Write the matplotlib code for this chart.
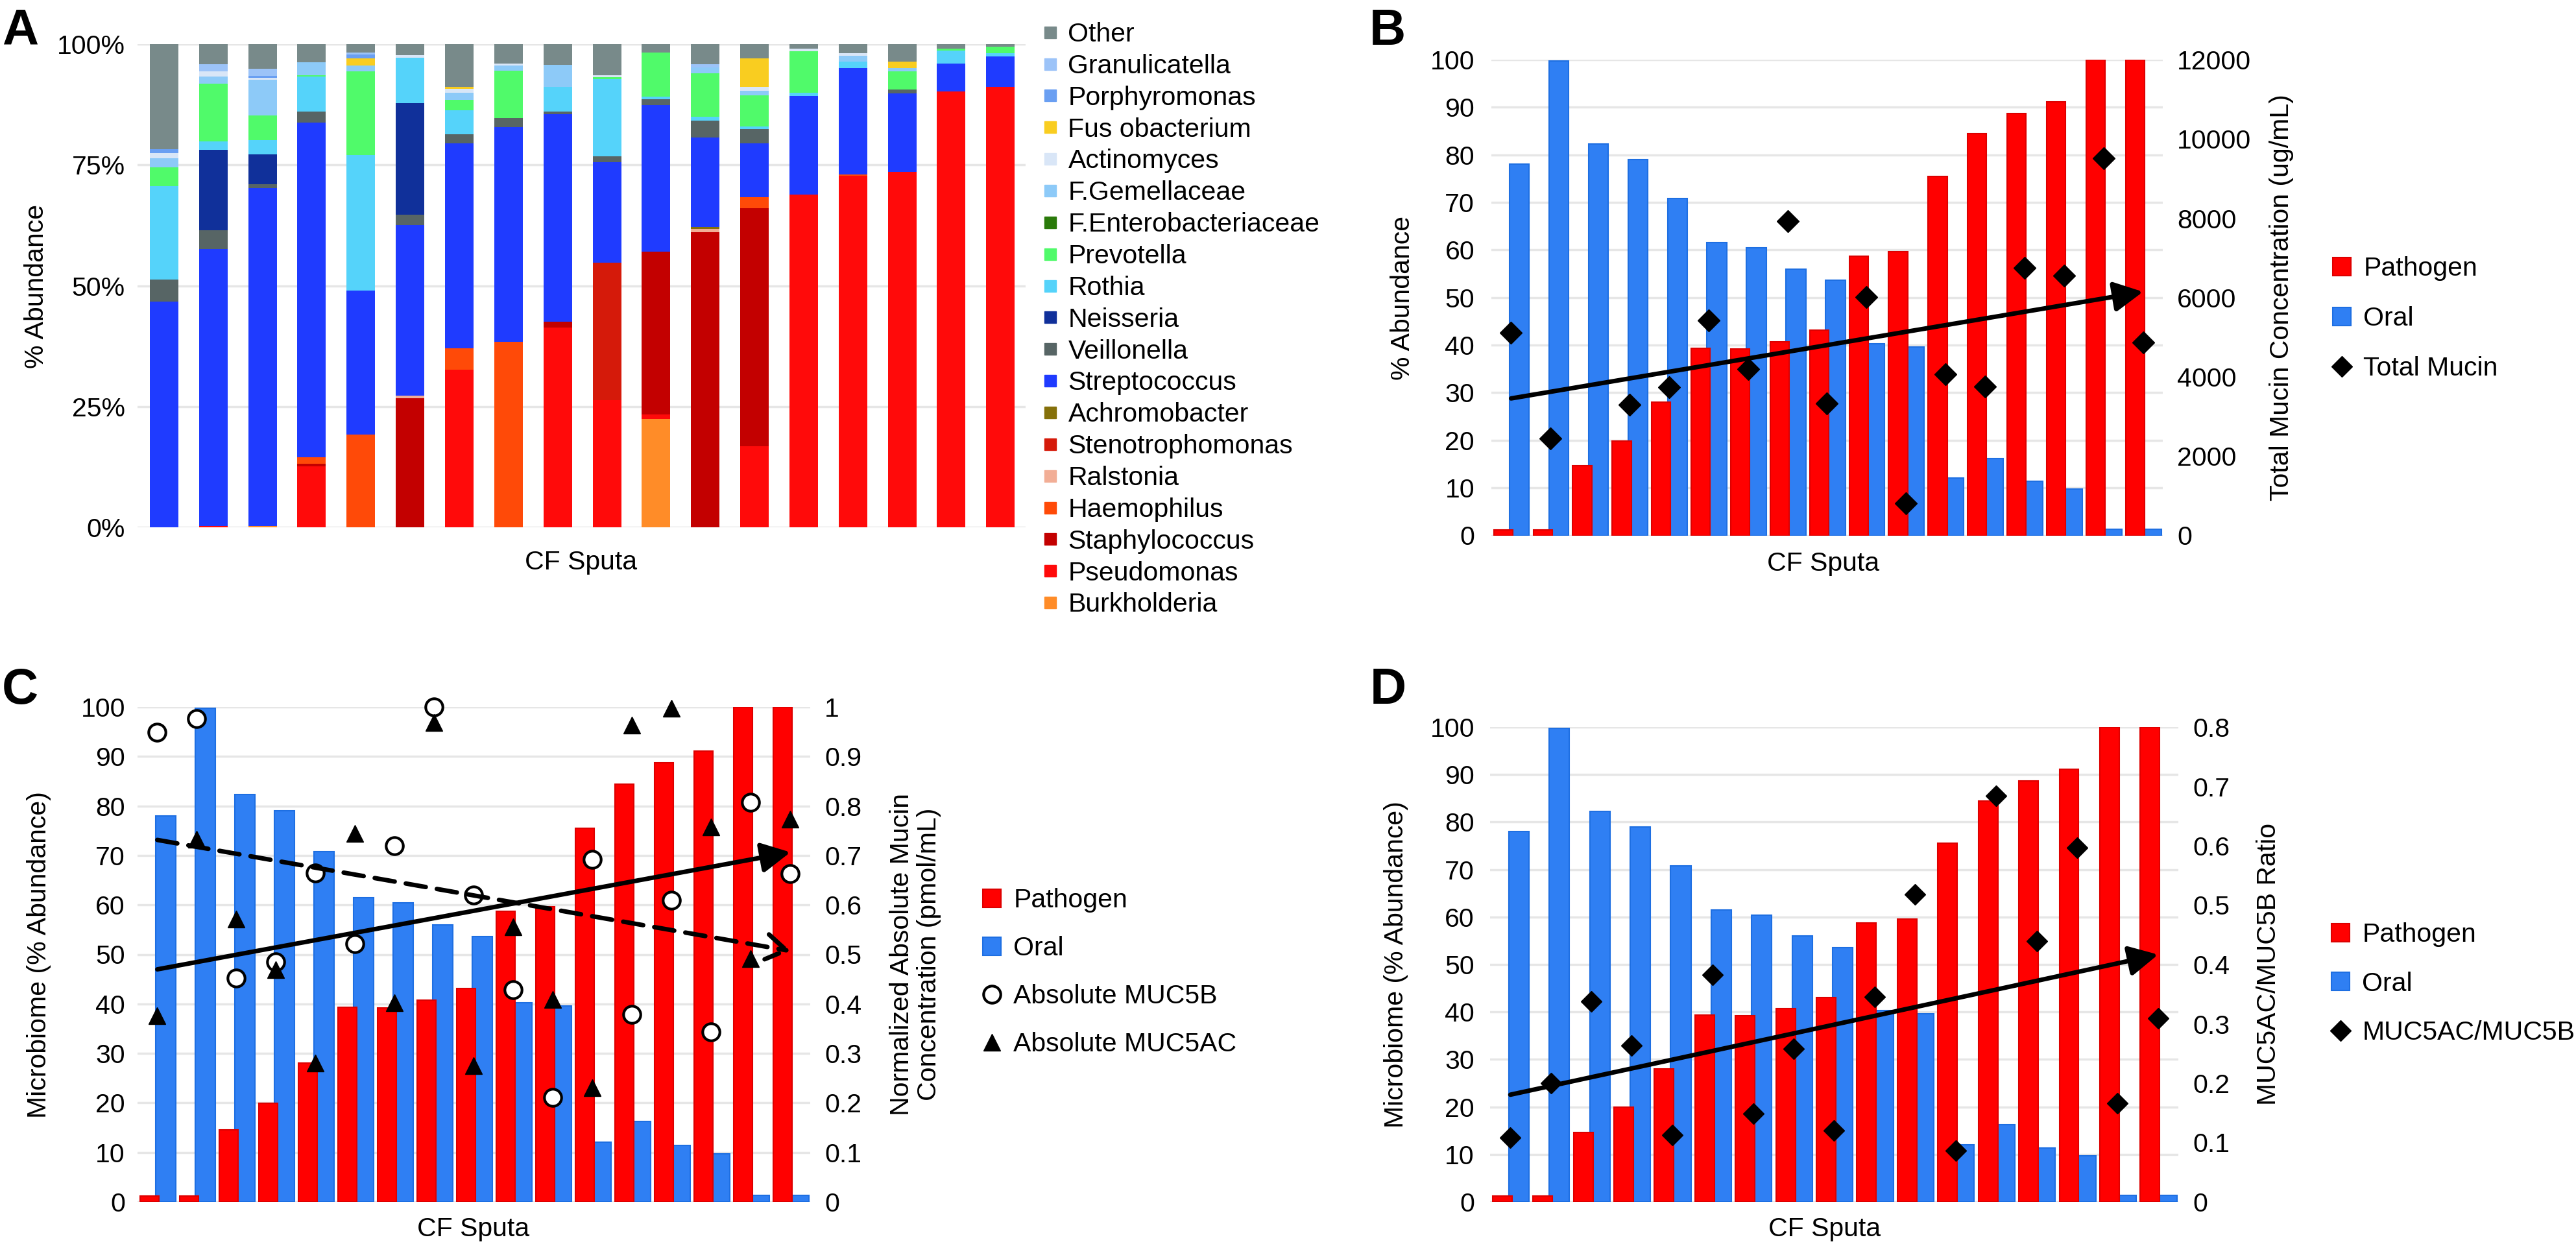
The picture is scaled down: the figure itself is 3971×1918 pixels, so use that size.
import numpy as np
import matplotlib
matplotlib.use('Agg')
import matplotlib.pyplot as plt
from matplotlib.lines import Line2D

plt.rcParams['font.family'] = ['Liberation Sans', 'DejaVu Sans']
FS = 29.5

# ---------------- Panel A data (% abundance per sputum sample, 18 samples) ----------------
burkholderia     = [0, 0, 0.3, 0, 0, 0, 0, 0, 0, 0, 22.4, 0, 0, 0, 0, 0, 0, 0]
pseudomonas      = [0, 0.3, 0, 12.6, 0, 0, 32.6, 0, 41.4, 26.3, 0.9, 0, 16.8, 68.9, 72.8, 73.5, 90.2, 91.2]
staphylococcus   = [0, 0, 0, 0.5, 0, 26.7, 0, 0, 1.2, 0, 33.7, 61.1, 49.2, 0, 0, 0, 0, 0]
haemophilus      = [0, 0, 0, 1.4, 19.2, 0, 4.5, 38.4, 0, 0, 0, 0, 2.3, 0, 0.2, 0, 0, 0]
ralstonia        = [0, 0, 0, 0, 0, 0.6, 0, 0, 0, 0, 0, 0.6, 0, 0, 0, 0, 0, 0]
stenotrophomonas = [0, 0, 0, 0, 0, 0, 0, 0, 0, 28.5, 0, 0, 0, 0, 0, 0, 0, 0]
achromobacter    = [0, 0, 0, 0, 0, 0, 0, 0, 0, 0, 0, 0.5, 0, 0, 0, 0, 0, 0]
streptococcus    = [46.7, 57.3, 69.9, 69.2, 29.8, 35.3, 42.4, 44.4, 42.9, 20.8, 30.4, 18.5, 11.2, 20.3, 22.1, 16.3, 5.8, 6.3]
veillonella      = [4.6, 3.9, 0.8, 2.3, 0, 2.1, 1.8, 1.9, 0.5, 1.2, 1.2, 3.5, 2.9, 0, 0, 0.8, 0, 0]
neisseria        = [0, 16.6, 6.2, 0, 0, 23.1, 0, 0, 0, 0, 0, 0, 0, 0, 0, 0, 0, 0]
rothia           = [19.3, 1.8, 2.9, 7.3, 28.1, 9.4, 5.0, 0, 5.1, 16.0, 0.5, 0.8, 0.5, 0.8, 1.3, 0, 2.7, 0.6]
prevotella       = [3.9, 11.9, 5.2, 0.3, 17.2, 0, 2.2, 9.8, 0, 0.4, 9.1, 9.0, 6.5, 8.5, 0, 3.7, 0.4, 1.3]
f_enterobact     = [0, 0, 0, 0, 0, 0, 0, 0, 0, 0, 0, 0, 0, 0, 0, 0, 0, 0]
f_gemellaceae    = [1.9, 1.5, 7.3, 2.7, 1.3, 0, 1.4, 1.1, 4.6, 0, 0, 1.2, 0.9, 0, 1.2, 0.8, 0, 0]
actinomyces      = [1.0, 1.0, 0.4, 0, 0, 0.5, 0.9, 0.4, 0, 0.3, 0, 0, 0.8, 0.6, 0.5, 0, 0, 0]
fusobacterium    = [0, 0, 0, 0, 1.5, 0, 0.4, 0, 0, 0, 0, 0, 6.0, 0, 0, 1.3, 0, 0]
porphyromonas    = [0.8, 0, 0.4, 0, 0.8, 0, 0, 0, 0, 0, 0, 0, 0, 0, 0, 0, 0, 0]
granulicatella   = [0, 1.5, 1.5, 0, 0.4, 0, 0, 0, 0, 0, 0, 0.6, 0, 0, 0, 0, 0, 0]
other            = [21.8, 4.2, 5.1, 3.7, 1.7, 2.3, 8.8, 4.0, 4.3, 6.5, 1.8, 4.2, 2.9, 0.9, 1.9, 3.6, 0.9, 0.6]

# legend order (top to bottom) == reverse stacking order
taxa_labels = ['Other', 'Granulicatella', 'Porphyromonas', 'Fus obacterium', 'Actinomyces',
               'F.Gemellaceae', 'F.Enterobacteriaceae', 'Prevotella', 'Rothia', 'Neisseria',
               'Veillonella', 'Streptococcus', 'Achromobacter', 'Stenotrophomonas', 'Ralstonia',
               'Haemophilus', 'Staphylococcus', 'Pseudomonas', 'Burkholderia']
taxa_values = [other, granulicatella, porphyromonas, fusobacterium, actinomyces,
               f_gemellaceae, f_enterobact, prevotella, rothia, neisseria,
               veillonella, streptococcus, achromobacter, stenotrophomonas, ralstonia,
               haemophilus, staphylococcus, pseudomonas, burkholderia]
taxa_colors = ['#788A8A', '#9CC3F8', '#6A9FF2', '#F9CD20', '#D9E6F7',
               '#8DCAF8', '#2A7A0A', '#50FA6A', '#55D3FA', '#10309A',
               '#576565', '#1F3BFF', '#85700A', '#D51A0A', '#F2AE96',
               '#FF4A08', '#C30000', '#FF0A0A', '#FF8C28']
a_ticks = [0, 25, 50, 75, 100]

# ---------------- Panels B-D data (17 samples) ----------------
pathogen    = [1.2, 1.2, 14.6, 19.9, 28.0, 39.3, 39.2, 40.7, 43.1, 58.7, 59.6, 75.5, 84.4, 88.7, 91.1, 100, 100]
oral        = [78.0, 99.7, 82.3, 79.0, 70.8, 61.5, 60.4, 56.0, 53.6, 40.3, 39.6, 12.0, 16.2, 11.4, 9.7, 1.3, 1.3]
total_mucin = [5120, 2440, np.nan, 3300, 3740, 5430, 4200, 7920, 3330, 6020, 810, 4060, 3750, 6750, 6560, 9520, 4860]
muc5b       = [0.949, 0.977, 0.452, 0.485, 0.665, 0.522, 0.720, 1.0, 0.620, 0.429, 0.211, 0.692, 0.379, 0.610, 0.344, 0.807, 0.663]
muc5ac      = [0.376, 0.733, 0.571, 0.469, 0.280, 0.744, 0.403, 0.969, 0.275, 0.556, 0.409, 0.231, 0.963, 0.998, 0.757, 0.491, 0.773]
ratio       = [0.108, 0.200, 0.338, 0.263, 0.113, 0.383, 0.149, 0.258, 0.120, 0.345, 0.518, 0.086, 0.684, 0.439, 0.597, 0.166, 0.309]
left_ticks  = list(range(0, 101, 10))
b_right_ticks = list(range(0, 12001, 2000))
c_right_ticks = [0, 0.1, 0.2, 0.3, 0.4, 0.5, 0.6, 0.7, 0.8, 0.9, 1]
d_right_ticks = [0, 0.1, 0.2, 0.3, 0.4, 0.5, 0.6, 0.7, 0.8]

RED, RED_E = '#FF0000', '#DD0000'
BLUE, BLUE_E = '#2F7FF3', '#1E6FE2'
GRID = '#E6E6E6'

W, H = 3971, 1918
fig = plt.figure(figsize=(W / 100, H / 100), dpi=100)


def px_axes(x0, y0, x1, y1):
    return fig.add_axes([x0 / W, 1 - y1 / H, (x1 - x0) / W, (y1 - y0) / H])


def clean(ax):
    for s in ax.spines.values():
        s.set_visible(False)
    ax.tick_params(length=0, labelsize=FS)
    ax.set_xticks([])


def fmt(v):
    return f'{v:g}'


def trend(ax, x, y, **kw):
    x = np.asarray(x, float)
    y = np.asarray(y, float)
    m = ~np.isnan(y)
    k, b = np.polyfit(x[m], y[m], 1)
    x0, x1 = x[0], x[-1]
    ax.annotate('', xy=(x1, k * x1 + b), xytext=(x0, k * x0 + b),
                arrowprops=dict(shrinkA=0, shrinkB=0, mutation_scale=1, color='k', **kw),
                annotation_clip=False)


# ---------------- Panel A ----------------
axA = px_axes(212, 68, 1581, 813)
clean(axA)
xa = np.arange(len(other))
bottom = np.zeros(len(other))
for vals, col in zip(taxa_values[::-1], taxa_colors[::-1]):
    v = np.asarray(vals, float)
    axA.bar(xa, v, 0.58, bottom=bottom, color=col, linewidth=0)
    bottom += v
axA.set_xlim(-0.54, 17.51)
axA.set_ylim(0, 100)
axA.set_yticks(a_ticks)
axA.set_yticklabels([f'{t}%' for t in a_ticks])
axA.yaxis.grid(True, color=GRID, lw=2.5)
axA.set_axisbelow(True)
axA.tick_params(axis='y', pad=13.7)

handlesA = [Line2D([], [], marker='s', ls='none', ms=13, mfc=c, mec=c) for c in taxa_colors]
fig.legend(handlesA, taxa_labels, loc='upper left', bbox_to_anchor=(1603 / W, 1 - 34 / H),
           frameon=False, fontsize=FS, borderpad=0, borderaxespad=0, labelspacing=0.265,
           handlelength=0.8, handletextpad=0.26)


def bar_panel(box, lpad, rpad):
    ax = px_axes(*box)
    clean(ax)
    x = np.arange(len(pathogen))
    ax.bar(x + 0.21, oral, 0.5, color=BLUE, edgecolor=BLUE_E, lw=1.5)
    ax.bar(x - 0.2, pathogen, 0.48, color=RED, edgecolor=RED_E, lw=1.5)
    ax.set_xlim(-0.5, len(pathogen) - 0.5)
    ax.set_ylim(0, 100)
    ax.set_yticks(left_ticks)
    ax.yaxis.grid(True, color=GRID, lw=2.5)
    ax.set_axisbelow(True)
    ax.tick_params(axis='y', pad=lpad)
    ax2 = ax.twinx()
    clean(ax2)
    ax2.tick_params(axis='y', pad=rpad)
    return ax, ax2, x


def legend_bcd(labels, extra, x_left, y_top, spacing):
    hs = [Line2D([], [], marker='s', ls='none', ms=20, mfc=RED, mec=RED_E, mew=1.5),
          Line2D([], [], marker='s', ls='none', ms=20, mfc=BLUE, mec=BLUE_E, mew=1.5)] + extra
    fig.legend(hs, labels, loc='upper left', bbox_to_anchor=(x_left / W, 1 - y_top / H),
               frameon=False, fontsize=FS, borderpad=0, borderaxespad=0, labelspacing=spacing,
               handlelength=0.8, handletextpad=0.4)


# ---------------- Panel B ----------------
axB, axB2, xb = bar_panel((2299, 92, 3334, 825.5), 18.7, 15.8)
axB2.set_ylim(0, 12000)
axB2.set_yticks(b_right_ticks)
axB2.plot(xb, total_mucin, 'D', ms=17.5, color='k', clip_on=False)
trend(axB2, xb, total_mucin, arrowstyle='-|>,head_length=27,head_width=14', lw=5)
legend_bcd(['Pathogen', 'Oral', 'Total Mucin'],
           [Line2D([], [], marker='D', ls='none', ms=16.5, color='k')], 3594, 395, 0.95)

# ---------------- Panel C ----------------
axC, axC2, xc = bar_panel((212, 1090, 1249, 1853), 13.7, 15.8)
axC2.set_ylim(0, 1)
axC2.set_yticks(c_right_ticks)
axC2.set_yticklabels([fmt(t) for t in c_right_ticks])
axC2.plot(xc, muc5b, 'o', ms=19, mfc='white', mec='k', mew=3, clip_on=False)
axC2.plot(xc, muc5ac, '^', ms=19, color='k', clip_on=False)
trend(axC2, xc, muc5ac, arrowstyle='-|>,head_length=27,head_width=14', lw=5)
trend(axC2, xc, muc5b, arrowstyle='->,head_length=22,head_width=14', lw=5, ls=(0, (4.5, 2.5)))
legend_bcd(['Pathogen', 'Oral', 'Absolute MUC5B', 'Absolute MUC5AC'],
           [Line2D([], [], marker='o', ls='none', ms=19, mfc='white', mec='k', mew=3),
            Line2D([], [], marker='^', ls='none', ms=19, color='k')], 1513, 1369, 0.88)

# ---------------- Panel D ----------------
axD, axD2, xd = bar_panel((2297, 1121, 3358, 1853), 17.3, 15.8)
axD2.set_ylim(0, 0.8)
axD2.set_yticks(d_right_ticks)
axD2.set_yticklabels([fmt(t) for t in d_right_ticks])
axD2.plot(xd, ratio, 'D', ms=16, color='k', clip_on=False)
trend(axD2, xd, ratio, arrowstyle='-|>,head_length=27,head_width=14', lw=5)
legend_bcd(['Pathogen', 'Oral', 'MUC5AC/MUC5B'],
           [Line2D([], [], marker='D', ls='none', ms=16.5, color='k')], 3592, 1422, 0.92)

# ---------------- Axis titles ----------------
def ftext(x, y, s, **kw):
    fig.text(x / W, 1 - y / H, s, fontsize=FS, **kw)

ftext(56, 441, '% Abundance', rotation=90, ha='center', va='center')
ftext(896, 878, 'CF Sputa', ha='center', va='baseline')
ftext(2162, 459, '% Abundance', rotation=90, ha='center', va='center')
ftext(3517, 459, 'Total Mucin Concentration (ug/mL)', rotation=90, ha='center', va='center')
ftext(2811, 880, 'CF Sputa', ha='center', va='baseline')
ftext(60, 1472, 'Microbiome (% Abundance)', rotation=90, ha='center', va='center')
ftext(1411, 1471, 'Normalized Absolute Mucin\nConcentration (pmol/mL)', rotation=90,
      ha='center', va='center', multialignment='center', linespacing=1.15)
ftext(730, 1906, 'CF Sputa', ha='center', va='baseline')
ftext(2152, 1487, 'Microbiome (% Abundance)', rotation=90, ha='center', va='center')
ftext(3497, 1486, 'MUC5AC/MUC5B Ratio', rotation=90, ha='center', va='center')
ftext(2813, 1906, 'CF Sputa', ha='center', va='baseline')

# ---------------- Panel letters ----------------
for lx, ly, s in [(3, 12, 'A'), (2111, 12, 'B'), (3, 1028, 'C'), (2112, 1028, 'D')]:
    fig.text(lx / W, 1 - ly / H, s, fontsize=56, fontweight='bold', ha='left', va='top')

fig.savefig('out.png', dpi=100)
